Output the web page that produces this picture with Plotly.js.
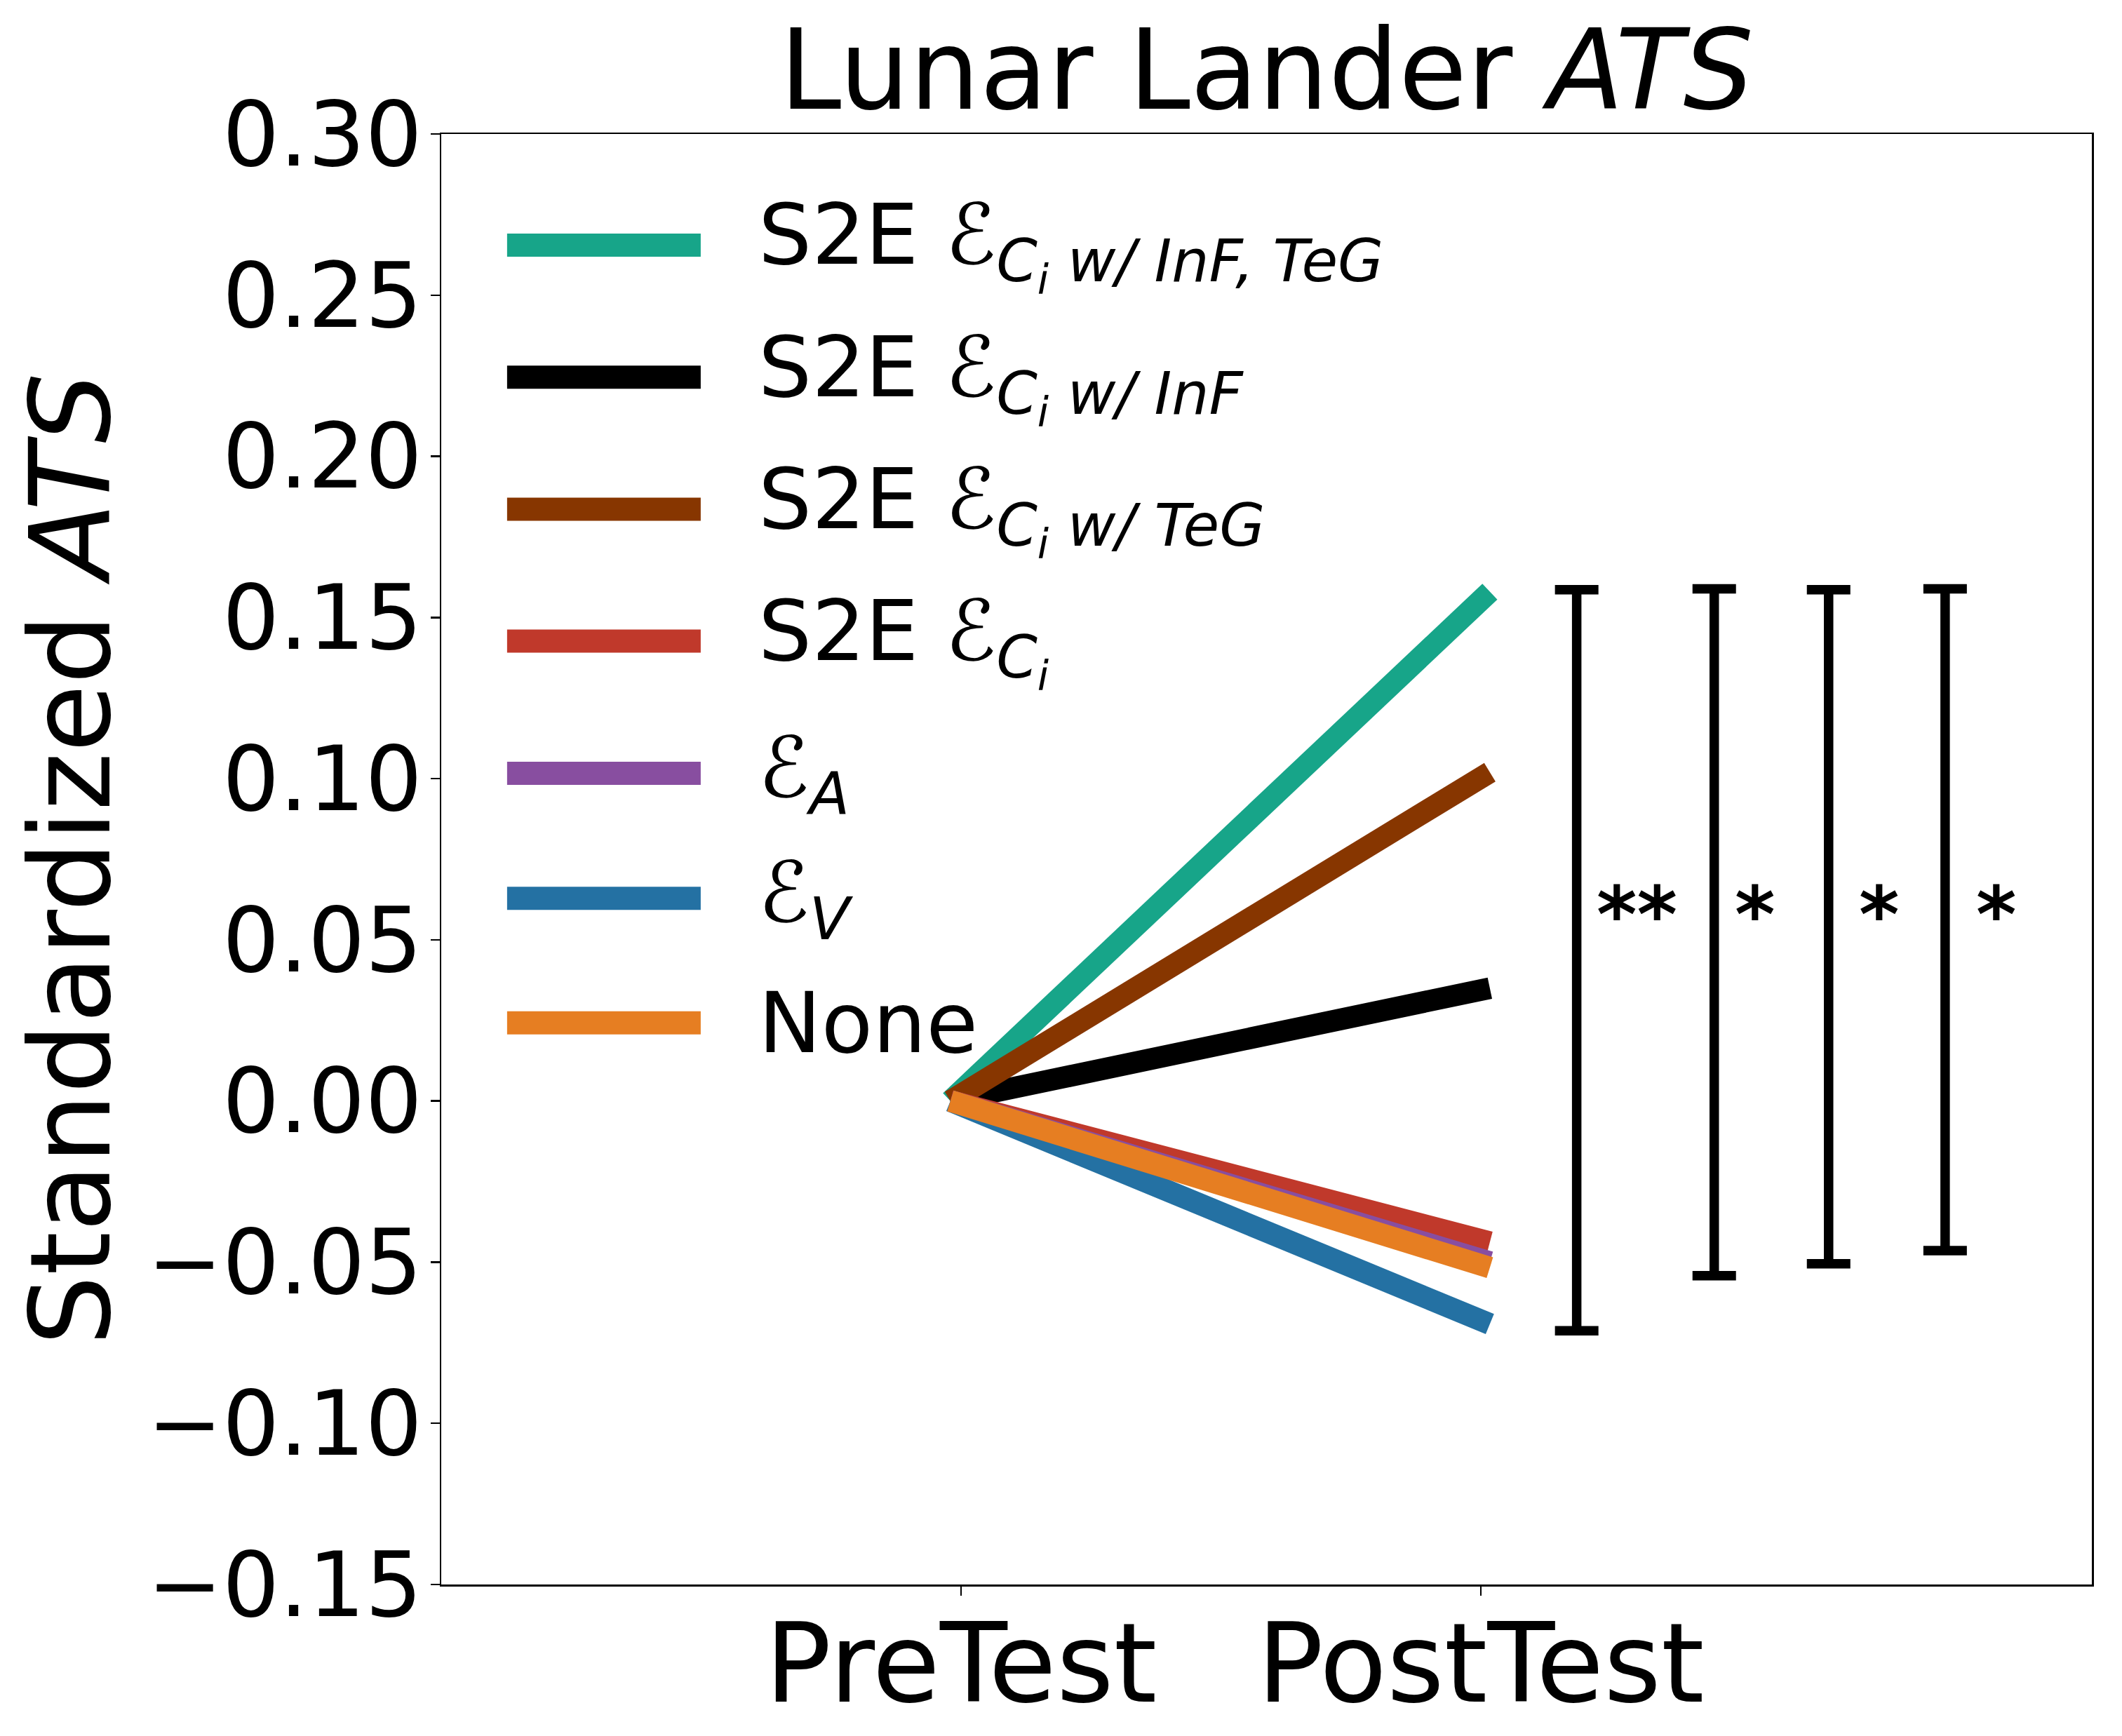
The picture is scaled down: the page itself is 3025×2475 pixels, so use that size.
<!DOCTYPE html>
<html><head><meta charset="utf-8">
<script src="https://cdn.plot.ly/plotly-3.0.1.min.js"></script>
<style>html,body{margin:0;padding:0;background:#fff}</style>
</head><body><div id="chart" style="width:3025px;height:2475px"></div>
<script>
// ---- data ----
const phases = ['PreTest', 'PostTest'];
const phaseX = [0, 1];
const phaseTickPos = [0.0195, 0.983];
const seriesNames = [
  'S2E ℰ<sub><i>C<sub>i</sub> w/ InF, TeG</i></sub>',
  'S2E ℰ<sub><i>C<sub>i</sub> w/ InF</i></sub>',
  'S2E ℰ<sub><i>C<sub>i</sub> w/ TeG</i></sub>',
  'S2E ℰ<sub><i>C<sub>i</sub></i></sub>',
  'ℰ<sub><i>A</i></sub>',
  'ℰ<sub><i>V</i></sub>',
  'None'
];
const seriesColors = ['#17a589', '#000000', '#873600', '#c0392b', '#884ea0', '#2471a3', '#e67e22'];
const preValues  = [0, 0, 0, 0, 0, 0, 0];
const postValues = [0.158, 0.035, 0.102, -0.0438, -0.0500, -0.0692, -0.0517];
const bracketX = [1.161, 1.416, 1.628, 1.844];
const bracketTop = [0.1586, 0.1589, 0.1586, 0.1589];
const bracketBottom = [-0.0713, -0.0542, -0.0505, -0.0464];
const starLabels = ['**', '*', '*', '*'];
const starX = [1.195, 1.452, 1.682, 1.899];
const starY = [0.0576, 0.0576, 0.0576, 0.0576];
const yTicks = [-0.15, -0.10, -0.05, 0.00, 0.05, 0.10, 0.15, 0.20, 0.25, 0.30];

// ---- traces ----
const traces = [];
for (let i = 0; i < seriesNames.length; i++) {
  traces.push({
    type: 'scatter', mode: 'lines', name: seriesNames[i],
    x: phaseX, y: [preValues[i], postValues[i]],
    line: {color: seriesColors[i], width: 31},
    hoverinfo: 'skip', showlegend: false
  });
}
for (let j = 0; j < bracketX.length; j++) {
  traces.push({
    type: 'scatter', mode: 'markers',
    x: [bracketX[j]], y: [bracketBottom[j]],
    marker: {size: 1, color: 'rgba(0,0,0,0)'},
    error_y: {type: 'data', symmetric: false, array: [bracketTop[j] - bracketBottom[j]], arrayminus: [0],
              color: '#000', thickness: 13.5, width: 31},
    hoverinfo: 'skip', showlegend: false
  });
}

// ---- legend (drawn manually) ----
const legendY = [0.9234, 0.8323, 0.7413, 0.6504, 0.5592, 0.4731, 0.3872];
const shapes = [];
const annotations = [];
for (let i = 0; i < seriesNames.length; i++) {
  shapes.push({type: 'line', xref: 'paper', yref: 'paper', x0: 0.0399, x1: 0.1572, y0: legendY[i], y1: legendY[i],
               line: {color: seriesColors[i], width: 33}});
  annotations.push({xref: 'paper', yref: 'paper', x: 0.1912, y: legendY[i], xanchor: 'left', yanchor: 'middle',
                    text: seriesNames[i], showarrow: false, font: {size: 120, color: '#000'}});
}
for (let j = 0; j < starLabels.length; j++) {
  annotations.push({xref: 'x', yref: 'y', x: starX[j], y: starY[j], xanchor: 'left', yanchor: 'middle',
                    text: '<b>' + starLabels[j] + '</b>', showarrow: false, font: {size: 110, color: '#000'}});
}

const layout = {
  width: 3025, height: 2475,
  margin: {l: 629, r: 43, t: 191, b: 216, pad: 0},
  paper_bgcolor: '#fff', plot_bgcolor: '#fff',
  font: {family: 'DejaVu Sans', color: '#000'},
  showlegend: false,
  title: {text: 'Lunar Lander <i>ATS</i>', font: {size: 158, color: '#000'}, x: 0.5, xref: 'paper',
          y: 1 - 100 / 2475, yref: 'container', yanchor: 'middle'},
  xaxis: {range: [-0.944, 2.116], tickmode: 'array', tickvals: phaseTickPos, ticktext: phases,
          ticks: 'outside', ticklen: 13, tickwidth: 2.5, tickcolor: '#000',
          showline: true, linewidth: 2.5, linecolor: '#000', mirror: true,
          showgrid: false, zeroline: false, tickfont: {size: 157}, ticklabelstandoff: -37},
  yaxis: {range: [-0.15, 0.30], tickmode: 'array', tickvals: yTicks, tickformat: '.2f',
          ticks: 'outside', ticklen: 13, tickwidth: 2.5, tickcolor: '#000',
          showline: true, linewidth: 2.5, linecolor: '#000', mirror: true,
          showgrid: false, zeroline: false, tickfont: {size: 128}, ticklabelstandoff: -14,
          title: {text: 'Standardized <i>ATS</i>', font: {size: 158}, standoff: 0}},
  shapes: shapes,
  annotations: annotations
};

Plotly.newPlot('chart', traces, layout, {staticPlot: true, displayModeBar: false});
</script></body></html>
